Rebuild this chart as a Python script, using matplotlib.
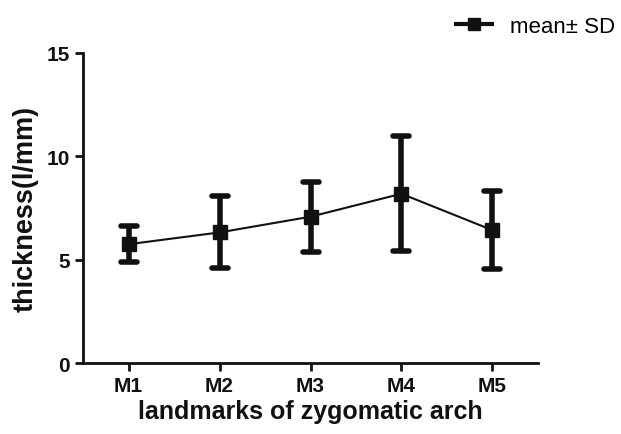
import numpy as np
import matplotlib.pyplot as plt
from matplotlib.lines import Line2D
from matplotlib.markers import MarkerStyle

plt.rcParams['font.family'] = ['Liberation Sans', 'DejaVu Sans']

# values
landmarks = ['M1', 'M2', 'M3', 'M4', 'M5']
means = [5.75, 6.32, 7.08, 8.19, 6.43]
sds = [0.87, 1.74, 1.70, 2.79, 1.90]

ink = '#111111'

fig = plt.figure(figsize=(6.21, 4.35), dpi=100)
ax = fig.add_axes([0.134, 0.163, 0.732, 0.713])

x = np.arange(len(landmarks))
line, caps, bars = ax.errorbar(x, means, yerr=sds, color=ink, lw=1.5, marker='s',
                               ms=9.5, elinewidth=4, capsize=6, capthick=4)
# rounded cap ends like the original
for c in caps:
    c.set_marker(MarkerStyle('_', capstyle='round'))

ax.set_xlim(-0.5, 4.5)
ax.set_ylim(0, 15)
ax.set_yticks([0, 5, 10, 15])
ax.set_xticks(x)
ax.set_xticklabels(landmarks)

for s in ['top', 'right']:
    ax.spines[s].set_visible(False)
for s in ['left', 'bottom']:
    ax.spines[s].set_linewidth(2)
    ax.spines[s].set_color(ink)

ax.tick_params(width=2, length=6, labelsize=15, color=ink, labelcolor=ink)
for lab in ax.get_xticklabels() + ax.get_yticklabels():
    lab.set_fontweight('bold')

ax.set_xlabel('landmarks of zygomatic arch', fontsize=18, fontweight='bold',
              labelpad=3, color=ink)
ax.set_ylabel('thickness(l/mm)', fontsize=19.5, fontweight='bold', labelpad=6,
              color=ink)

handle = Line2D([], [], color=ink, lw=3, marker='s', ms=9)
fig.legend([handle], ['mean\u00b1 SD'], loc='center right',
           bbox_to_anchor=(1.022, 0.937), frameon=False, fontsize=16,
           handlelength=1.6, handletextpad=0.8)

fig.savefig('out.png', dpi=100)
